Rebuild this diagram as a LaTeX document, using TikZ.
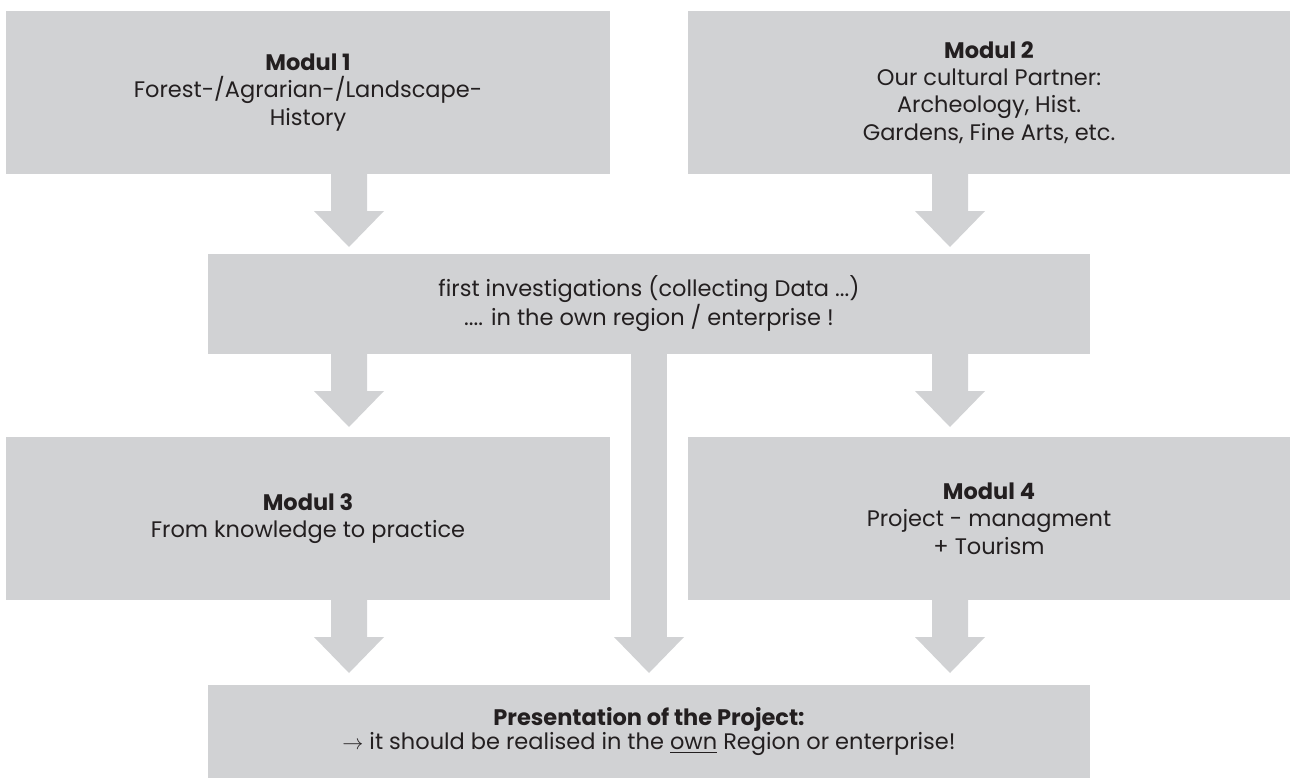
\documentclass[tikz,border=0pt]{standalone}
\usepackage{fontspec}
\setmainfont{Poppins}
\usepackage{tikz}
\usetikzlibrary{arrows.meta}
\definecolor{boxgray}{HTML}{D1D2D4}
\definecolor{txtgray}{HTML}{231F20}

\begin{document}
\begin{tikzpicture}[modbox/.style={fill=boxgray, inner sep=0pt, outer sep=0pt, minimum width=12.08cm, minimum height=3.26cm, align=center, text=txtgray, font=\fontsize{12.8}{15.6}\selectfont},
  widebox/.style={modbox, minimum width=17.64cm, font=\fontsize{12.8}{11.6}\selectfont},
  flow/.style={draw=boxgray, line width=0.72cm, -{Triangle[width=1.4cm,length=0.72cm,line width=0pt]}, shorten >=0.2cm},]
\useasboundingbox (0,0) rectangle (25.8,-15.56);
\node[modbox] (m1) at (6.16,-1.85) {\textbf{Modul 1}\\Forest-/Agrarian-/Landscape-\\History};
\node[modbox, minimum width=12.04cm] (m2) at (19.78,-1.85) {\textbf{Modul 2}\\Our cultural Partner:\\Archeology, Hist.\\Gardens, Fine Arts, etc.};
\node[widebox, minimum height=2cm] (data) at (12.98,-6.08) {first investigations (collecting Data ...)\\.... in the own region / enterprise !};
\node[modbox] (m3) at (6.16,-10.37) {\textbf{Modul 3}\\From knowledge to practice};
\node[modbox, minimum width=12.04cm] (m4) at (19.78,-10.37) {\textbf{Modul 4}\\Project - managment\\+ Tourism};
\node[widebox, minimum height=1.86cm] (pres) at (12.98,-14.63) {\textbf{Presentation of the Project:}\\$\rightarrow$ it should be realised in the \underline{own} Region or enterprise!};
 \draw[flow, shorten >=0.14cm] ([xshift=0.82cm]m1.south) -- ([xshift=-6cm]data.north);
 \draw[flow, shorten >=0.14cm] ([xshift=-0.78cm]m2.south) -- ([xshift=6.02cm]data.north);
  \draw[flow] ([xshift=-6cm]data.south) -- ([xshift=0.82cm]m3.north);
  \draw[flow] ([xshift=6.02cm]data.south) -- ([xshift=-0.78cm]m4.north);
   \draw[flow, shorten >=0.24cm] (data.south) -- (pres.north);
   \draw[flow, shorten >=0.24cm] ([xshift=0.82cm]m3.south) -- ([xshift=-6cm]pres.north);
   \draw[flow, shorten >=0.24cm] ([xshift=-0.78cm]m4.south) -- ([xshift=6.02cm]pres.north);
\end{tikzpicture}
\end{document}
